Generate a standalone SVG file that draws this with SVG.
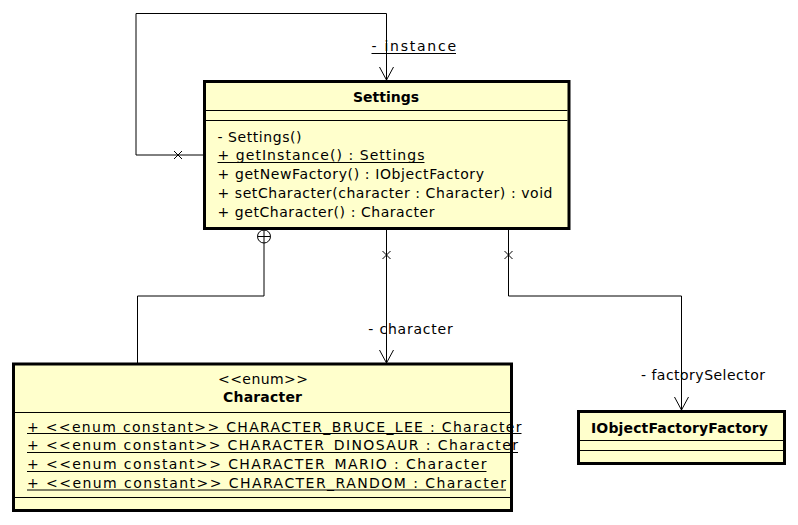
<svg xmlns="http://www.w3.org/2000/svg" width="798" height="525" viewBox="0 0 798 525">
<style>
.box{fill:#ffffcc;stroke:#000;stroke-width:3}
.sep{stroke:#000;stroke-width:1}
.t{font-family:"DejaVu Sans","Liberation Sans",sans-serif;font-size:14px;fill:#000}
.b{font-weight:bold}
.ul{stroke:#000;stroke-width:1}
.ln{fill:none;stroke:#000;stroke-width:1}
</style>
<rect width="798" height="525" fill="#fff"/>
<g id="connectors">
  <path class="ln" d="M204,155 H136 V13.5 H386.5 V80"/>
  <path class="ln" d="M379.5,67 L386.5,80 L393.5,67"/>
  <path class="ln" d="M174,151 L182,159 M182,151 L174,159"/>
  <text class="t" x="371.5" y="50.5" textLength="84.5">- instance</text>
  <line class="ul" x1="371.5" y1="53.5" x2="456" y2="53.5"/>

  <circle class="ln" cx="264" cy="236.5" r="6.5"/>
  <path class="ln" d="M257.5,236.5 H270.5 M264,230 V243"/>
  <path class="ln" d="M264,243 V296 H137.5 V363"/>

  <path class="ln" d="M386.5,229 V363"/>
  <path class="ln" d="M379.5,350 L386.5,363 L393.5,350"/>
  <path class="ln" d="M382.5,251 L390.5,259 M390.5,251 L382.5,259"/>
  <text class="t" x="368.3" y="333.5" textLength="84.5">- character</text>

  <path class="ln" d="M508.5,229 V296 H681.5 V410"/>
  <path class="ln" d="M674.5,397 L681.5,410 L688.5,397"/>
  <path class="ln" d="M504.5,251 L512.5,259 M512.5,251 L504.5,259"/>
  <text class="t" x="641" y="380" textLength="124">- factorySelector</text>
</g>
<g id="settings">
  <rect class="box" x="204.5" y="81.5" width="364.5" height="147"/>
  <line class="sep" x1="206" y1="110.5" x2="567.5" y2="110.5"/>
  <line class="sep" x1="206" y1="120.5" x2="567.5" y2="120.5"/>
  <text class="t b" x="353" y="101.5" textLength="66">Settings</text>
  <text class="t" x="217.5" y="141.5" textLength="84">- Settings()</text>
  <text class="t" x="217.5" y="160.3" textLength="207">+ getInstance() : Settings</text>
  <line class="ul" x1="217.5" y1="162.5" x2="424.5" y2="162.5"/>
  <text class="t" x="217.5" y="179" textLength="266.5">+ getNewFactory() : IObjectFactory</text>
  <text class="t" x="217.5" y="197.8" textLength="335">+ setCharacter(character : Character) : void</text>
  <text class="t" x="217.5" y="216.5" textLength="217">+ getCharacter() : Character</text>
</g>
<g id="character">
  <rect class="box" x="13.5" y="364" width="498" height="146.5"/>
  <line class="sep" x1="15" y1="412.5" x2="510" y2="412.5"/>
  <line class="sep" x1="15" y1="497.5" x2="510" y2="497.5"/>
  <text class="t" x="218" y="384" textLength="90">&lt;&lt;enum&gt;&gt;</text>
  <text class="t b" x="223" y="402" textLength="79">Character</text>
  <text class="t" x="27" y="431.5" textLength="494.5">+ &lt;&lt;enum constant&gt;&gt; CHARACTER_BRUCE_LEE : Character</text>
  <line class="ul" x1="27" y1="433.5" x2="521.5" y2="433.5"/>
  <text class="t" x="27" y="450.3" textLength="491">+ &lt;&lt;enum constant&gt;&gt; CHARACTER_DINOSAUR : Character</text>
  <line class="ul" x1="27" y1="452.5" x2="518" y2="452.5"/>
  <text class="t" x="27" y="469" textLength="459.5">+ &lt;&lt;enum constant&gt;&gt; CHARACTER_MARIO : Character</text>
  <line class="ul" x1="27" y1="471.5" x2="486.5" y2="471.5"/>
  <text class="t" x="27" y="487.8" textLength="479">+ &lt;&lt;enum constant&gt;&gt; CHARACTER_RANDOM : Character</text>
  <line class="ul" x1="27" y1="490" x2="506" y2="490"/>
</g>
<g id="iobjectfactoryfactory">
  <rect class="box" x="578.5" y="411.5" width="206" height="52"/>
  <line class="sep" x1="580" y1="440.5" x2="783" y2="440.5"/>
  <line class="sep" x1="580" y1="450.5" x2="783" y2="450.5"/>
  <text class="t b" x="591" y="433" textLength="177">IObjectFactoryFactory</text>
</g>
</svg>
